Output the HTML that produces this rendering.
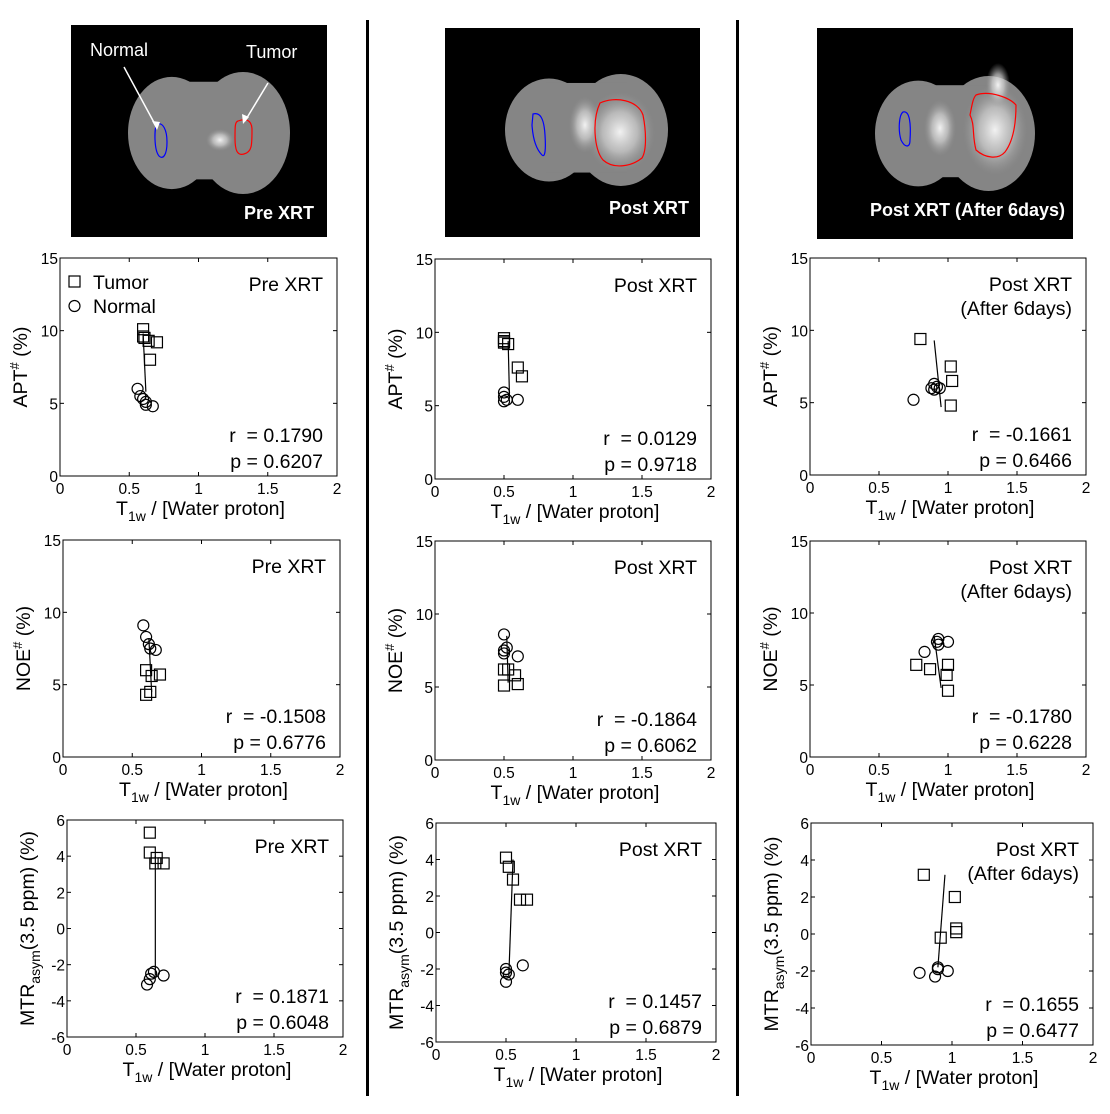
<!DOCTYPE html>
<html><head><meta charset="utf-8"><style>
html,body{margin:0;padding:0;background:#fff;}
svg{display:block;font-family:"Liberation Sans",Arial,sans-serif;}
</style></head><body>
<svg id="s" width="1110" height="1114" xmlns="http://www.w3.org/2000/svg">
<defs>
<radialGradient id="gw"><stop offset="0" stop-color="#f2f2f2" stop-opacity="1"/><stop offset="0.5" stop-color="#d0d0d0" stop-opacity="0.7"/><stop offset="1" stop-color="#999" stop-opacity="0"/></radialGradient>
</defs>
<rect x="366" y="20" width="3" height="1076" fill="#000"/>
<rect x="736" y="20" width="3" height="1076" fill="#000"/>
</svg>
<script>
const S=document.getElementById('s');const NS='http://www.w3.org/2000/svg';
function el(t,a,txt){const e=document.createElementNS(NS,t);for(const k in a)e.setAttribute(k,a[k]);if(txt!==undefined)e.textContent=txt;S.appendChild(e);return e;}
function brain(x,y,w,h,bx,by,bw,bh,bright,label,lx,ly,blue,red){
 el('rect',{x:x,y:y,width:w,height:h,fill:'#000'});
 const f='#858585';
 el('ellipse',{cx:bx+bw*0.27,cy:by+bh/2,rx:bw*0.27,ry:bh*0.46,fill:f});
 el('ellipse',{cx:bx+bw*0.71,cy:by+bh/2,rx:bw*0.29,ry:bh*0.5,fill:f});
 el('rect',{x:bx+bw*0.25,y:by+bh*0.08,width:bw*0.5,height:bh*0.8,fill:f});
 bright.forEach(b=>el('ellipse',{cx:b[0],cy:b[1],rx:b[2],ry:b[3],fill:'url(#gw)'}));
 el('path',{d:blue,fill:'none',stroke:'#00f','stroke-width':1.2});
 el('path',{d:red,fill:'none',stroke:'#f00','stroke-width':1.2});
 el('text',{x:lx,y:ly,fill:'#fff','font-size':18,'font-weight':'bold','text-anchor':'end'},label);
}
brain(71,25,256,212,128,72,162,122,[[220,140,14,11]],'Pre XRT',314,219,
 'M157 124 C163 122 167 130 167 142 C167 155 163 160 159 156 C154 150 154 128 157 124Z',
 'M238 121 C246 118 252 120 252 130 C252 145 252 152 244 154 C237 156 235 150 235 138 C235 126 235 122 238 121Z');
el('text',{x:90,y:56,fill:'#fff','font-size':18},'Normal');
el('text',{x:246,y:58,fill:'#fff','font-size':18},'Tumor');
el('line',{x1:124,y1:67,x2:157,y2:128,stroke:'#fff','stroke-width':1.5});
el('line',{x1:268,y1:83,x2:245,y2:121,stroke:'#fff','stroke-width':1.5});
el('path',{d:'M157 130 L152 121 L160 122Z',fill:'#fff'});
el('path',{d:'M243 124 L242 114 L249 117Z',fill:'#fff'});
brain(445,28,255,209,505,74,163,112,[[620,132,35,40],[585,125,16,28]],'Post XRT',689,214,
 'M533 114 C540 112 544 118 545 135 C546 150 545 158 542 155 C537 150 533 140 532 125Z',
 'M600 103 C615 96 638 100 643 115 C646 130 647 150 642 158 C632 166 614 170 603 160 C594 150 592 120 600 103Z');
brain(817,28,256,211,875,76,160,115,[[995,130,32,45],[998,85,12,22],[940,128,16,28]],'Post XRT (After 6days)',1065,216,
 'M903 112 C910 110 911 125 910 140 C910 148 905 148 901 140 C898 130 899 115 903 112Z',
 'M976 95 C990 90 1010 98 1016 105 C1016 120 1014 140 1005 152 C998 160 985 158 976 150 C972 135 975 125 970 115 C972 105 973 98 976 95Z');

function plot(o){
 const {x0,y0,x1,y1,ymin,ymax,yt,sq,ci,ln,ylab,title,r,p,leg,mtr}=o;
 const X=v=>x0+(x1-x0)*v/2, Y=v=>y1-(y1-y0)*(v-ymin)/(ymax-ymin);
 el('rect',{x:x0,y:y0,width:x1-x0,height:y1-y0,fill:'none',stroke:'#000','stroke-width':1});
 [0,0.5,1,1.5,2].forEach(v=>{const xx=X(v);
  el('line',{x1:xx,y1:y1,x2:xx,y2:y1-4,stroke:'#000'});el('line',{x1:xx,y1:y0,x2:xx,y2:y0+4,stroke:'#000'});
  el('text',{x:xx,y:y1+18,'font-size':15.5,'text-anchor':'middle'},String(v));});
 yt.forEach(v=>{const yy=Y(v);
  el('line',{x1:x0,y1:yy,x2:x0+4,y2:yy,stroke:'#000'});el('line',{x1:x1,y1:yy,x2:x1-4,y2:yy,stroke:'#000'});
  el('text',{x:x0-2,y:yy+6,'font-size':15.5,'text-anchor':'end'},String(v));});
 el('line',{x1:X(ln[0]),y1:Y(ln[1]),x2:X(ln[2]),y2:Y(ln[3]),stroke:'#000','stroke-width':1.2});
 sq.forEach(d=>el('rect',{x:X(d[0])-5.5,y:Y(d[1])-5.5,width:11,height:11,fill:'none',stroke:'#000','stroke-width':1.2}));
 ci.forEach(d=>el('circle',{cx:X(d[0]),cy:Y(d[1]),r:5.5,fill:'none',stroke:'#000','stroke-width':1.2}));
 const tx=x1-14;
 title.forEach((t,i)=>el('text',{x:tx,y:y0+33+i*24,'font-size':19.5,'text-anchor':'end'},t));
 el('text',{x:tx,y:y1-34,'font-size':19.5,'text-anchor':'end'},'r\u00a0 = '+r);
 el('text',{x:tx,y:y1-8,'font-size':19.5,'text-anchor':'end'},'p = '+p);
 const cx=(x0+x1)/2;
 const xl=el('text',{x:cx+2,y:y1+39,'font-size':19.5,'text-anchor':'middle'});
 xl.innerHTML='T<tspan font-size="14" dy="6">1w</tspan><tspan dy="-6"> / [Water proton]</tspan>';
 const yc=(y0+y1)/2, lx=x0-33;
 const yl=el('text',{x:lx,y:yc,'font-size':19.5,'text-anchor':'middle',transform:`rotate(-90 ${lx} ${yc})`});
 if(mtr) yl.innerHTML='MTR<tspan font-size="14" dy="6">asym</tspan><tspan dy="-6">(3.5 ppm) (%)</tspan>';
 else yl.innerHTML=ylab+'<tspan font-size="13" dy="-8">#</tspan><tspan dy="8"> (%)</tspan>';
 if(leg){el('rect',{x:x0+9,y:y0+18,width:11,height:11,fill:'none',stroke:'#000','stroke-width':1.2});
  el('text',{x:x0+33,y:y0+31,'font-size':19.5},'Tumor');
  el('circle',{cx:x0+14.5,cy:y0+48,r:5.5,fill:'none',stroke:'#000','stroke-width':1.2});
  el('text',{x:x0+33,y:y0+55,'font-size':19.5},'Normal');}
}
const T1=['Pre XRT'],T2=['Post XRT'],T3=['Post XRT','(After 6days)'];
const a=[0,5,10,15], m=[-6,-4,-2,0,2,4,6];
plot({x0:60,y0:258,x1:337,y1:476,ymin:0,ymax:15,yt:a,ylab:'APT',title:T1,r:'0.1790',p:'0.6207',leg:true,
 sq:[[0.6,10.1],[0.61,9.5],[0.64,9.3],[0.7,9.2],[0.65,8],[0.6,9.6]],ci:[[0.56,6],[0.58,5.5],[0.6,5.3],[0.62,5.1],[0.62,4.9],[0.67,4.8]],ln:[0.62,5.8,0.6,9.8]});
plot({x0:435,y0:259,x1:711,y1:479,ymin:0,ymax:15,yt:a,ylab:'APT',title:T2,r:'0.0129',p:'0.9718',
 sq:[[0.5,9.6],[0.5,9.3],[0.53,9.2],[0.6,7.6],[0.63,7],[0.5,9.4]],ci:[[0.5,5.9],[0.5,5.6],[0.5,5.3],[0.52,5.4],[0.6,5.4]],ln:[0.54,5.5,0.53,9.4]});
plot({x0:810,y0:258,x1:1086,y1:475,ymin:0,ymax:15,yt:a,ylab:'APT',title:T3,r:'-0.1661',p:'0.6466',
 sq:[[0.8,9.4],[1.02,7.5],[1.03,6.5],[1.02,4.8]],ci:[[0.75,5.2],[0.88,6],[0.9,6.3],[0.92,6.1],[0.94,6],[0.9,5.9]],ln:[0.95,4.7,0.9,9.3]});
plot({x0:63,y0:540,x1:340,y1:757,ymin:0,ymax:15,yt:a,ylab:'NOE',title:T1,r:'-0.1508',p:'0.6776',
 ci:[[0.58,9.1],[0.6,8.3],[0.62,7.8],[0.67,7.4],[0.63,7.5]],sq:[[0.6,6],[0.64,5.6],[0.7,5.7],[0.63,4.5],[0.6,4.3]],ln:[0.64,4.5,0.62,8.2]});
plot({x0:435,y0:541,x1:711,y1:760,ymin:0,ymax:15,yt:a,ylab:'NOE',title:T2,r:'-0.1864',p:'0.6062',
 ci:[[0.5,8.6],[0.5,7.5],[0.52,7.7],[0.6,7.1],[0.5,7.3]],sq:[[0.5,6.2],[0.53,6.2],[0.58,5.8],[0.6,5.2],[0.5,5.1]],ln:[0.53,5.3,0.52,8.5]});
plot({x0:810,y0:541,x1:1086,y1:757,ymin:0,ymax:15,yt:a,ylab:'NOE',title:T3,r:'-0.1780',p:'0.6228',
 ci:[[0.93,8.2],[0.92,8],[1,8],[0.83,7.3],[0.93,7.8]],sq:[[0.77,6.4],[0.87,6.1],[1,6.4],[0.99,5.7],[1,4.6]],ln:[0.95,4.8,0.9,8.4]});
plot({x0:67,y0:820,x1:343,y1:1037,ymin:-6,ymax:6,yt:m,mtr:true,title:T1,r:'0.1871',p:'0.6048',
 sq:[[0.6,5.3],[0.6,4.2],[0.64,3.6],[0.7,3.6],[0.65,3.9]],ci:[[0.61,-2.5],[0.63,-2.4],[0.7,-2.6],[0.6,-2.8],[0.58,-3.1]],ln:[0.64,-2.6,0.64,4]});
plot({x0:436,y0:823,x1:716,y1:1042,ymin:-6,ymax:6,yt:m,mtr:true,title:T2,r:'0.1457',p:'0.6879',
 sq:[[0.5,4.1],[0.52,3.6],[0.55,2.9],[0.6,1.8],[0.65,1.8]],ci:[[0.5,-2.0],[0.5,-2.2],[0.52,-2.3],[0.62,-1.8],[0.5,-2.7]],ln:[0.52,-2.4,0.55,4]});
plot({x0:811,y0:823,x1:1093,y1:1045,ymin:-6,ymax:6,yt:m,mtr:true,title:T3,r:'0.1655',p:'0.6477',
 sq:[[0.8,3.2],[1.02,2],[1.03,0.3],[1.03,0.1],[0.92,-0.2]],ci:[[0.77,-2.1],[0.9,-1.8],[0.9,-1.9],[0.88,-2.3],[0.97,-2]],ln:[0.9,-1.8,0.95,3.2]});
</script>
</body></html>
